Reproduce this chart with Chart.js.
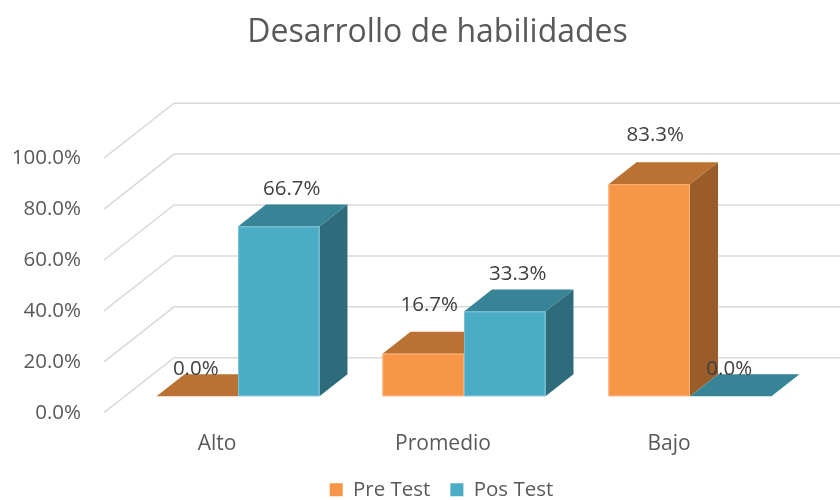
<!DOCTYPE html>
<html><head><meta charset="utf-8">
<script src="https://cdn.jsdelivr.net/npm/chart.js@4/dist/chart.umd.min.js"></script>
<style>html,body{margin:0;padding:0;background:#fff}</style>
</head><body>
<canvas id="c" width="840" height="500"></canvas>
<script>
const categories = ['Alto', 'Promedio', 'Bajo'];
const seriesNames = ['Pre Test', 'Pos Test'];
const preTest = [0.0, 16.7, 83.3];
const posTest = [66.7, 33.3, 0.0];
const titleText = 'Desarrollo de habilidades';

const FONT = "'Open Sans', 'DejaVu Sans', sans-serif";
const DEPTH = {x: 70, y: -55};
const FRONT = 0.3, BACK = 0.7;
const shades = [
  {front: '#F79646', top: '#B97232', side: '#9A5C29', edge: '#F9AE74', lblDx: 6, lblDy: -49},
  {front: '#4BACC6', top: '#378497', side: '#2E6C7C', edge: '#7AC2D5', lblDx: 13, lblDy: -37}
];

const fmt = v => Number(v).toFixed(1) + '%';

const bars3d = {
  id: 'bars3d',
  afterLayout(chart) {
    const l = chart.legend;
    if (l) { l.top += 10; l.bottom += 10; l.left += 40; l.right += 40; }
    const t = chart.titleBlock;
    if (t) { t.left += 36; t.right += 36; }
    const xs = chart.scales.x;
    if (xs) { xs.bottom += 20; }
  },
  beforeDatasetsDraw(chart) {
    const {ctx, chartArea, scales} = chart;
    const y = scales.y;
    ctx.save();
    ctx.strokeStyle = '#D9D9D9';
    ctx.lineWidth = 1.5;
    y.ticks.forEach(t => {
      const p = y.getPixelForValue(t.value);
      const x0 = chartArea.left - FRONT * DEPTH.x, y0 = p - FRONT * DEPTH.y;
      const x1 = chartArea.left + BACK * DEPTH.x, y1 = p + BACK * DEPTH.y;
      ctx.beginPath();
      ctx.moveTo(x0, y0); ctx.lineTo(x1, y1); ctx.lineTo(chart.width, y1);
      ctx.stroke();
    });
    const dx = (BACK - FRONT) * DEPTH.x, dy = (BACK - FRONT) * DEPTH.y;
    const n = chart.data.labels.length;
    for (let i = 0; i < n; i++) {
      for (let d = 0; d < chart.data.datasets.length; d++) {
        const el = chart.getDatasetMeta(d).data[i];
        const {x, y: top, base, width} = el.getProps(['x', 'y', 'base', 'width'], true);
        const l = x - width / 2, r = x + width / 2;
        const c = shades[d];
        ctx.fillStyle = c.top;
        ctx.beginPath();
        ctx.moveTo(l, top); ctx.lineTo(l + dx, top + dy); ctx.lineTo(r + dx, top + dy); ctx.lineTo(r, top);
        ctx.closePath(); ctx.fill();
        if (base - top > 0.5) {
          ctx.fillStyle = c.side;
          ctx.beginPath();
          ctx.moveTo(r, top); ctx.lineTo(r + dx, top + dy); ctx.lineTo(r + dx, base + dy); ctx.lineTo(r, base);
          ctx.closePath(); ctx.fill();
          ctx.fillStyle = c.front;
          ctx.fillRect(l, top, width, base - top);
          ctx.strokeStyle = c.edge;
          ctx.lineWidth = 1;
          ctx.strokeRect(l + 0.5, top + 0.5, width - 1, base - top - 1);
        }
      }
    }
    ctx.restore();
    return false;
  },
  afterDraw(chart) {
    const {ctx} = chart;
    ctx.save();
    ctx.font = '20.5px ' + FONT;
    ctx.fillStyle = '#404040';
    ctx.textAlign = 'center';
    ctx.textBaseline = 'middle';
    chart.data.datasets.forEach((ds, d) => {
      chart.getDatasetMeta(d).data.forEach((el, i) => {
        const v = ds.data[i];
        const {x, y: top} = el.getProps(['x', 'y'], true);
        if (v === 0) ctx.fillText(fmt(v), x - 1.5, top - 27);
        else ctx.fillText(fmt(v), x + shades[d].lblDx, top + shades[d].lblDy);
      });
    });
    ctx.restore();
  }
};

new Chart(document.getElementById('c'), {
  type: 'bar',
  data: {
    labels: categories,
    datasets: [
      {label: seriesNames[0], data: preTest, backgroundColor: shades[0].front, borderWidth: 0},
      {label: seriesNames[1], data: posTest, backgroundColor: shades[1].front, borderWidth: 0}
    ]
  },
  options: {
    responsive: false,
    animation: false,
    devicePixelRatio: 1,
    layout: {padding: {left: 0, right: 37, top: 0, bottom: 0}},
    datasets: {bar: {categoryPercentage: 0.721, barPercentage: 1}},
    scales: {
      x: {
        grid: {display: false, drawTicks: false},
        border: {display: false},
        ticks: {font: {family: FONT, size: 21}, color: '#595959', padding: 35, labelOffset: -21},
        afterFit(s) { s.height = 53.3; }
      },
      y: {
        min: 0, max: 100,
        grid: {display: false, drawTicks: false},
        border: {display: false},
        ticks: {stepSize: 20, font: {family: FONT, size: 20.5}, color: '#595959', padding: 44, labelOffset: 16.5,
          callback: v => fmt(v)},
        afterFit(s) { s.width = 125; }
      }
    },
    plugins: {
      title: {display: true, text: titleText, color: '#595959',
        font: {family: FONT, size: 32, weight: 'normal'}, padding: {top: 14, bottom: 89.3}},
      legend: {position: 'bottom',
        labels: {boxWidth: 13, boxHeight: 13, padding: 20, color: '#595959', font: {family: FONT, size: 20.5}}},
      tooltip: {enabled: false}
    }
  },
  plugins: [bars3d]
});
</script>
</body></html>
